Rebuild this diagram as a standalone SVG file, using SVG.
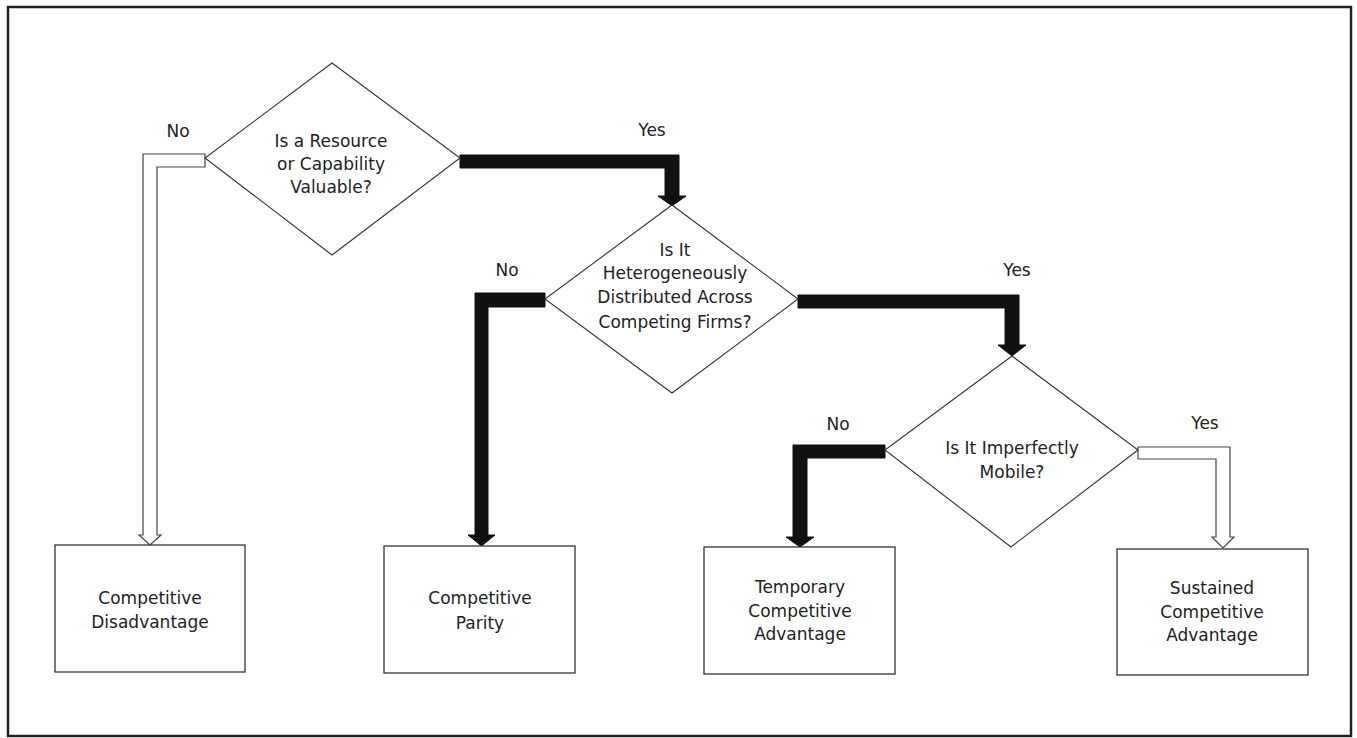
<svg xmlns="http://www.w3.org/2000/svg" width="1357" height="738" viewBox="0 0 1357 738">
<style>
.frame{fill:#fff;stroke:#222;stroke-width:2.5}
.dia{fill:#fff;stroke:#333;stroke-width:1.1}
.box{fill:#fff;stroke:#333;stroke-width:1.3}
.solid{fill:#111;stroke:#111;stroke-width:1}
.hollow{fill:#fff;stroke:#444;stroke-width:1.2;stroke-linejoin:miter}
text{font-family:"DejaVu Sans","Liberation Sans",sans-serif;font-size:17px;fill:#222;text-anchor:middle;dominant-baseline:central}
</style>
<rect class="frame" x="8" y="7" width="1343" height="729"/>
<g id="connectors">
<path class="hollow" d="M205,154 L143,154 L143,535 L139,535 L150,545 L161,535 L157,535 L157,167 L205,167 Z"/>
<path class="solid" d="M460,155 L679,155 L679,196 L686,196 L672,206 L658,196 L665,196 L665,168 L460,168 Z"/>
<path class="solid" d="M545,293 L475,293 L475,535 L468,535 L481.5,546 L495,535 L488,535 L488,307 L545,307 Z"/>
<path class="solid" d="M798,295 L1019,295 L1019,345 L1026,345 L1012,356 L998,345 L1005,345 L1005,308 L798,308 Z"/>
<path class="solid" d="M885,445 L793,445 L793,537 L786,537 L800,547 L814,537 L807,537 L807,458 L885,458 Z"/>
<path class="hollow" d="M1138,447 L1230,447 L1230,537 L1234,537 L1223,548 L1212,537 L1216,537 L1216,459 L1138,459 Z"/>
<text x="178" y="131">No</text>
<text x="652" y="130">Yes</text>
<text x="507" y="270">No</text>
<text x="1017" y="270">Yes</text>
<text x="838" y="424">No</text>
<text x="1205" y="423">Yes</text>
</g>
<g id="q1">
<polygon class="dia" points="332,63 460,158 332,255 205,158"/>
<text x="331" y="141">Is a Resource</text>
<text x="331" y="164">or Capability</text>
<text x="331" y="187">Valuable?</text>
</g>
<g id="q2">
<polygon class="dia" points="672,205 798,299 672,393 545,299"/>
<text x="675" y="250">Is It</text>
<text x="675" y="273">Heterogeneously</text>
<text x="675" y="297">Distributed Across</text>
<text x="675" y="322">Competing Firms?</text>
</g>
<g id="q3">
<polygon class="dia" points="1012,356 1138,450 1011,547 885,450"/>
<text x="1012" y="448">Is It Imperfectly</text>
<text x="1012" y="472">Mobile?</text>
</g>
<g id="disadvantage">
<rect class="box" x="55" y="545" width="190" height="127"/>
<text x="150" y="598">Competitive</text>
<text x="150" y="622">Disadvantage</text>
</g>
<g id="parity">
<rect class="box" x="384" y="546" width="191" height="127"/>
<text x="480" y="598">Competitive</text>
<text x="480" y="623">Parity</text>
</g>
<g id="temporary">
<rect class="box" x="704" y="547" width="191" height="127"/>
<text x="800" y="587">Temporary</text>
<text x="800" y="611">Competitive</text>
<text x="800" y="634">Advantage</text>
</g>
<g id="sustained">
<rect class="box" x="1117" y="549" width="191" height="126"/>
<text x="1212" y="588">Sustained</text>
<text x="1212" y="612">Competitive</text>
<text x="1212" y="635">Advantage</text>
</g>
</svg>
